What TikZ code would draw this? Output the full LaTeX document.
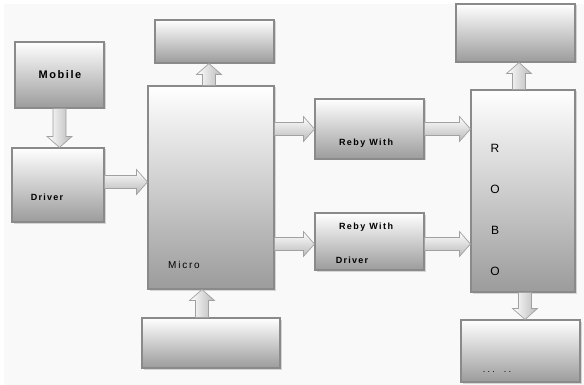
\documentclass[tikz,border=0pt]{standalone}
\usepackage{fontspec}
\setmainfont{Liberation Sans}
\usetikzlibrary{calc,shadows}
\newcommand\blockarrow[3][]{%
  \path[barrow,#1] let \p1=(#2), \p2=(#3),
      \n1={veclen(\x2-\x1,\y2-\y1)}, \n2={(\x2-\x1)/\n1}, \n3={(\y2-\y1)/\n1} in
    ({\x1-(\n3)*6.5pt},{\y1+(\n2)*6.5pt})
    -- ({\x2-(\n2)*11pt-(\n3)*6.5pt},{\y2-(\n3)*11pt+(\n2)*6.5pt})
    -- ({\x2-(\n2)*11pt-(\n3)*12.5pt},{\y2-(\n3)*11pt+(\n2)*12.5pt})
    -- (\p2)
    -- ({\x2-(\n2)*11pt+(\n3)*12.5pt},{\y2-(\n3)*11pt-(\n2)*12.5pt})
    -- ({\x2-(\n2)*11pt+(\n3)*6.5pt},{\y2-(\n3)*11pt-(\n2)*6.5pt})
    -- ({\x1+(\n3)*6.5pt},{\y1-(\n2)*6.5pt}) -- cycle;}
\definecolor{bg}{HTML}{F9F9F9}
\definecolor{edge}{HTML}{8A8A8A}
\tikzset{
  box/.style={draw=edge, line width=1.1pt, shading=axis, top color=white,
    bottom color=gray!78, inner sep=0pt,
    drop shadow={shadow xshift=1.5pt, shadow yshift=-1.5pt, fill=gray!60, opacity=0.5}},
  barrow/.style={draw=edge!80, line width=0.7pt},
  hsh/.style={shading=axis, top color=white, bottom color=gray!55},
  vsh/.style={shading=axis, left color=white, right color=gray!55},
  lbl/.style={inner sep=0pt, text=black},
}
\begin{document}
\begin{tikzpicture}[x=1pt,y=-1pt]
\useasboundingbox (0,0) rectangle (584,385);
\fill[white] (0,0) rectangle (584,385);
\fill[bg] (4,4) rectangle (584,385);
% boxes
\node[box, minimum width=89pt, minimum height=66pt] (mobile) at (59.5,75) {};
\node[box, minimum width=92pt, minimum height=74pt] (driver) at (58,185) {};
\node[box, minimum width=119pt, minimum height=43pt] (topM) at (214.5,41.5) {};
\node[box, minimum width=126pt, minimum height=203pt] (micro) at (211,187.5) {};
\node[box, minimum width=138pt, minimum height=50pt] (botM) at (211,343) {};
\node[box, minimum width=109pt, minimum height=60pt] (relay1) at (369.5,129) {};
\node[box, minimum width=109pt, minimum height=57pt] (relay2) at (369.5,241.5) {};
\node[box, minimum width=104pt, minimum height=202pt] (robo) at (523,191) {};
\node[box, minimum width=119pt, minimum height=58pt] (topR) at (515.5,33) {};
\node[box, minimum width=119pt, minimum height=62pt] (botR) at (520.5,351) {};
% labels
\node[lbl, font=\fontsize{11}{13}\selectfont\bfseries\addfontfeature{LetterSpace=14}] (tMobile) at (60,75) {Mobile};
\node[lbl, font=\fontsize{9}{11}\selectfont\bfseries\addfontfeature{LetterSpace=14}] (tDriver) at (47,197) {Driver};
\node[lbl, font=\fontsize{10}{12}\selectfont\addfontfeature{LetterSpace=18}] (tMicro) at (184,265) {Micro};
\node[lbl, font=\fontsize{9}{11}\selectfont\bfseries\addfontfeature{LetterSpace=16}] (tR1) at (366,143) {Reby With};
\node[lbl, font=\fontsize{9}{11}\selectfont\bfseries\addfontfeature{LetterSpace=16}] (tR2) at (366,227) {Reby With};
\node[lbl, font=\fontsize{9}{11}\selectfont\bfseries\addfontfeature{LetterSpace=14}] (tR2b) at (352,260) {Driver};
\node[lbl, font=\fontsize{12}{14}\selectfont] (rR) at (495,148) {R};
\node[lbl, font=\fontsize{12}{14}\selectfont] (rO1) at (495,189) {O};
\node[lbl, font=\fontsize{12}{14}\selectfont] (rB) at (495,230) {B};
\node[lbl, font=\fontsize{12}{14}\selectfont] (rO2) at (495,271) {O};
\node[lbl, font=\fontsize{9}{11}\selectfont\addfontfeature{LetterSpace=25}] (tdots) at (497,372) {...\hspace{9pt}..};
% arrows
\blockarrow[vsh]{mobile.south}{mobile.south |- driver.north}
\blockarrow[hsh]{[yshift=3pt]driver.east}{[yshift=3pt]driver.east -| micro.west}
\blockarrow[vsh]{[xshift=-2pt]micro.north}{[xshift=-2pt]micro.north |- topM.south}
\blockarrow[hsh]{micro.east |- relay1.west}{relay1.west}
\blockarrow[hsh]{[yshift=-2.5pt]micro.east |- relay2.west}{[yshift=-2.5pt]relay2.west}
\blockarrow[hsh]{relay1.east}{relay1.east -| robo.west}
\blockarrow[hsh]{[yshift=-2.5pt]relay2.east}{[yshift=-2.5pt]relay2.east -| robo.west}
\blockarrow[vsh]{[xshift=-9pt]botM.north}{[xshift=-9pt]botM.north |- micro.south}
\blockarrow[vsh]{[xshift=-4pt]robo.north}{[xshift=-4pt]robo.north |- topR.south}
\blockarrow[vsh]{[xshift=2pt]robo.south}{[xshift=2pt]robo.south |- botR.north}
\end{tikzpicture}
\end{document}
